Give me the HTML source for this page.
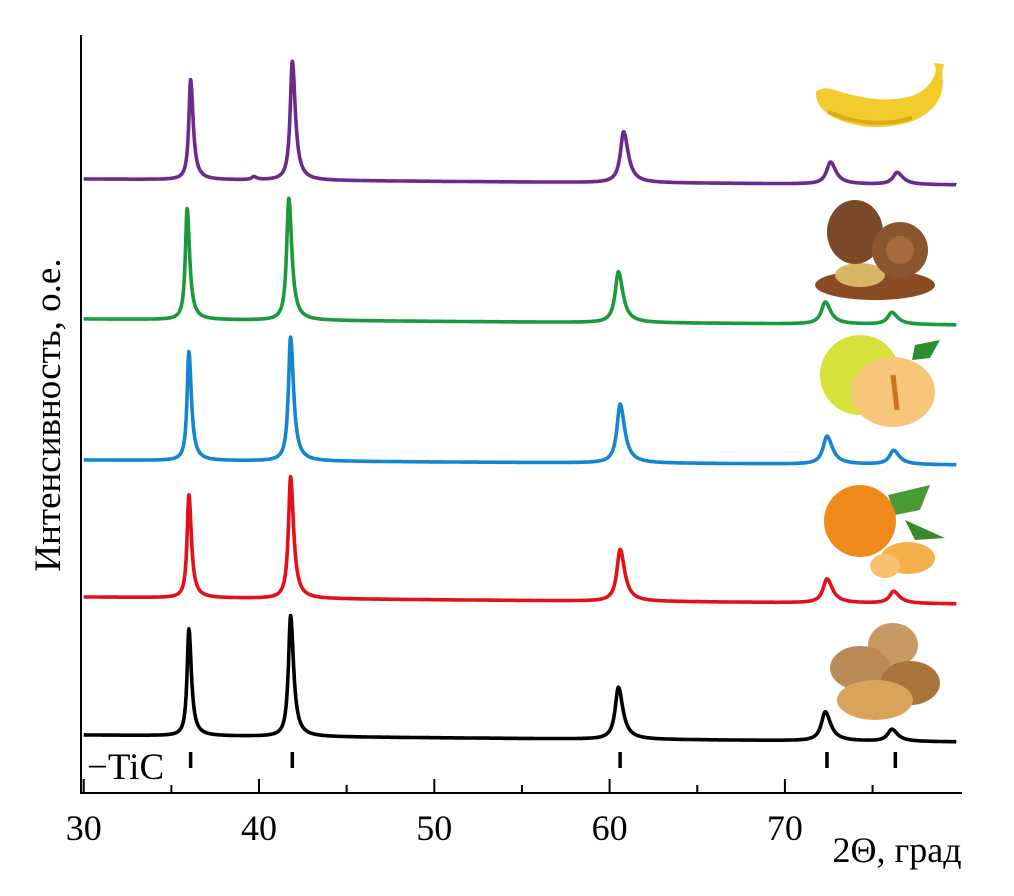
<!DOCTYPE html>
<html><head><meta charset="utf-8"><style>
html,body{margin:0;padding:0;background:#fff;}
svg{display:block;font-family:"Liberation Serif",serif;}
</style></head><body>
<svg id="chart" width="1014" height="896" viewBox="0 0 1014 896">
<g id="pics">
  <g>
    <path d="M816,92 Q822,86 835,90 Q880,105 912,96 Q932,88 936,70 L934,63 L944,64 L942,72 Q948,108 910,122 Q870,134 835,118 Q815,108 816,92Z" fill="#f2cc2c"/>
    <path d="M828,112 Q870,130 912,118" stroke="#dcaa14" stroke-width="4" fill="none"/>
  </g>
  <g>
    <ellipse cx="875" cy="285" rx="60" ry="15" fill="#8a4a22"/>
    <ellipse cx="860" cy="275" rx="25" ry="12" fill="#d8b565"/>
    <ellipse cx="855" cy="232" rx="28" ry="32" fill="#7a4a28"/>
    <ellipse cx="900" cy="250" rx="28" ry="28" fill="#8b5530"/>
    <circle cx="900" cy="250" r="14" fill="#a66b3d"/>
  </g>
  <g>
    <ellipse cx="860" cy="375" rx="40" ry="40" fill="#d8e03c"/>
    <path d="M915,345 L940,340 L930,358 L912,360Z" fill="#2f8f2f"/>
    <ellipse cx="893" cy="392" rx="42" ry="35" fill="#f7c67a"/>
    <path d="M893,375 L897,410" stroke="#d0721e" stroke-width="5"/>
  </g>
  <g>
    <path d="M888,495 L930,485 L920,510 L895,515Z" fill="#4a9a36"/>
    <path d="M905,520 L945,538 L915,540Z" fill="#3b8a2a"/>
    <circle cx="860" cy="521" r="36" fill="#f08a1a"/>
    <ellipse cx="908" cy="558" rx="27" ry="16" fill="#f6b04a"/>
    <ellipse cx="885" cy="566" rx="15" ry="12" fill="#f8c070"/>
  </g>
  <g>
    <ellipse cx="893" cy="645" rx="25" ry="22" fill="#c79a63"/>
    <ellipse cx="860" cy="668" rx="30" ry="22" fill="#b98a55"/>
    <ellipse cx="910" cy="683" rx="30" ry="22" fill="#a8743c"/>
    <ellipse cx="875" cy="700" rx="38" ry="20" fill="#d9a45a"/>
  </g>
</g>
<g id="axes"></g>
<g id="series"></g>
<text x="87" y="779" font-size="37">−TiC</text>
<text x="897" y="862" text-anchor="middle" font-size="36">2Θ, град</text>
<text transform="translate(60,415) rotate(-90)" text-anchor="middle" font-size="37">Интенсивность, о.е.</text>
</svg>
<script>
const peakPositions = [
  [36.0, 41.8, 60.5, 72.3, 76.1],
  [36.0, 41.8, 60.6, 72.4, 76.2],
  [36.0, 41.8, 60.6, 72.4, 76.2],
  [35.9, 41.7, 60.5, 72.3, 76.1],
  [36.1, 41.9, 60.8, 72.6, 76.4, 39.7]
];
const peakHeights = [
  [107, 121, 52, 29, 12],
  [103, 122, 52, 24, 12],
  [109, 124, 59, 28, 14],
  [111, 122, 51, 22, 12],
  [100, 119, 51, 22, 12, 3]
];
const baseStart = [58, 196, 333, 474, 614];
const baseEnd = [51, 189, 328, 468, 608];
const seriesNames = ["walnut", "tangerine", "pomelo", "pine-nut", "banana"];
const seriesColors = ["#000000", "#e3101a", "#1486d0", "#1a9a3c", "#6b2a8c"];
const ticPositions = [36.1, 41.9, 60.6, 72.4, 76.3];
const xTickValues = [30, 35, 40, 45, 50, 55, 60, 65, 70, 75];
const xTickLabels = ["30", "", "40", "", "50", "", "60", "", "70", ""];

const NS = "http://www.w3.org/2000/svg";
const xS = v => 259 + (v - 40) * 17.53;
const yS = v => 793 - v;
function mk(tag, attrs, parent) {
  const e = document.createElementNS(NS, tag);
  for (const k in attrs) e.setAttribute(k, attrs[k]);
  parent.appendChild(e);
  return e;
}
const axes = document.getElementById("axes");
let a = mk("path", {d: "M81,35 L81,793 L962,793", stroke: "#000", "stroke-width": 2, fill: "none"}, axes);


xTickValues.forEach((v, i) => {
  const major = v % 10 === 0;
  const t = mk("line", {x1: xS(v), x2: xS(v), y1: 793, y2: major ? 779 : 785, stroke: "#000", "stroke-width": 2}, axes);
  
  
  if (xTickLabels[i]) {
    const l = mk("text", {x: xS(v), y: 840, "text-anchor": "middle", "font-size": 36}, axes);
    l.textContent = xTickLabels[i];
    
    
  }
});
ticPositions.forEach(p => {
  const m = mk("line", {x1: xS(p), x2: xS(p), y1: 752, y2: 768, stroke: "#000", "stroke-width": 3.5}, axes);
  
  
});
const sg = document.getElementById("series");
const x0 = 30.0, x1 = 79.8;
seriesNames.forEach((name, s) => {
  let d = "";
  for (let x = x0; x <= x1; x += 0.02) {
    const f = (x - x0) / (x1 - x0);
    let v = baseStart[s] + (baseEnd[s] - baseStart[s]) * f;
    peakPositions[s].forEach((p, k) => {
      const g = 0.1 + (p - 30) * 0.004;
      const w = x > p ? g * 1.4 : g;
      v += peakHeights[s][k] / (1 + Math.pow((x - p) / w, 2));
    });
    d += (d ? "L" : "M") + xS(x).toFixed(1) + "," + yS(v).toFixed(1);
  }
  const path = mk("path", {d: d, stroke: seriesColors[s], "stroke-width": 3.6, fill: "none", "stroke-linejoin": "round"}, sg);
  
  
});
</script>
</body></html>
